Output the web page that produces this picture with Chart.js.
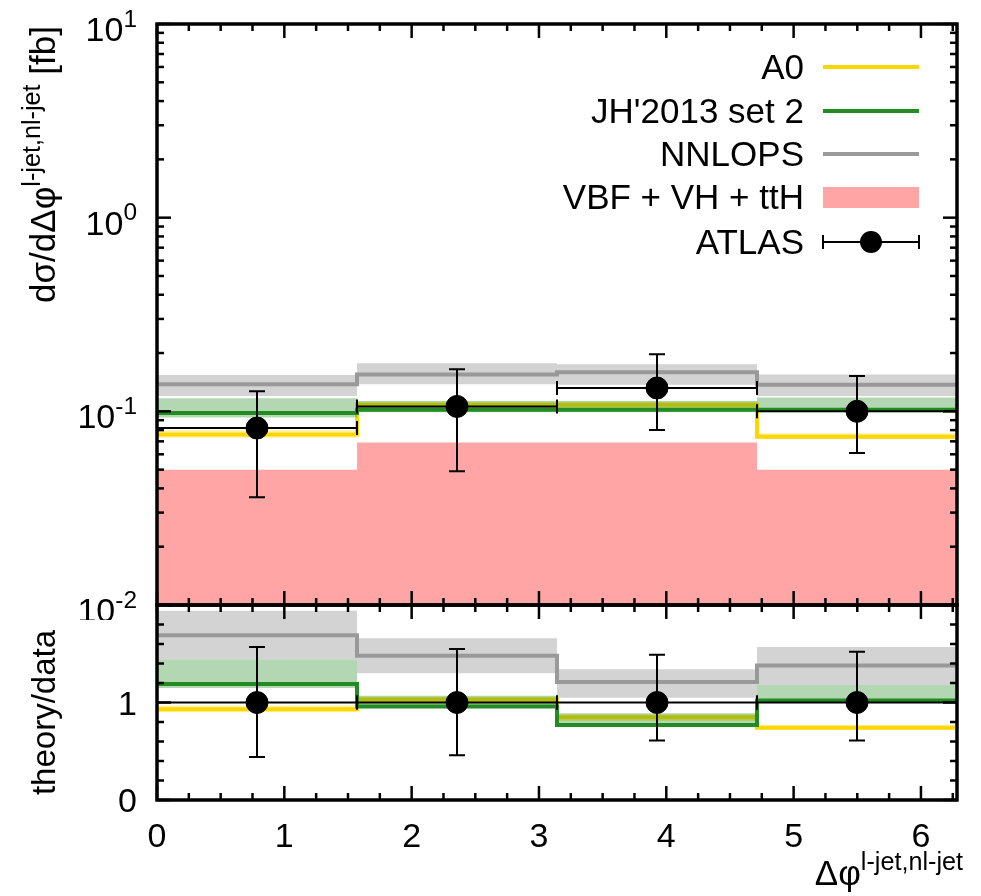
<!DOCTYPE html>
<html>
<head>
<meta charset="utf-8">
<script src="https://cdn.jsdelivr.net/npm/chart.js@4.4.1/dist/chart.umd.min.js"></script>
<style>
  body { margin: 0; background: #fff; }
  #wrap { position: relative; width: 981px; height: 896px; }
  canvas { position: absolute; left: 0; }
  #topChart { top: 0; }
  #ratioChart { top: 590px; }
</style>
</head>
<body>
<div id="wrap">
  <canvas id="topChart" width="981" height="620"></canvas>
  <canvas id="ratioChart" width="981" height="306"></canvas>
</div>
<script>
const FONT = '"Liberation Sans", Arial, sans-serif';

// bins in delta phi (0 .. 2pi, four bins)
const binEdges = [0, 1.5708, 3.1416, 4.7124, 6.2832];
const binCenters = [0.7854, 2.3562, 3.9270, 5.4978];

// top panel, dsigma/ddphi [fb]
const a0Top = [0.076, 0.108, 0.108, 0.074];
const a0TopLo = [0.073, 0.104, 0.104, 0.072];
const a0TopHi = [0.080, 0.112, 0.112, 0.077];
const jhTop = [0.098, 0.102, 0.102, 0.102];
const jhTopLo = [0.093, 0.099, 0.099, 0.099];
const jhTopHi = [0.117, 0.113, 0.113, 0.118];
const nnTop = [0.138, 0.155, 0.159, 0.137];
const nnTopLo = [0.120, 0.138, 0.137, 0.120];
const nnTopHi = [0.154, 0.177, 0.175, 0.155];
const vbfTop = [0.050, 0.069, 0.069, 0.050];
const atlasTop = [0.082, 0.106, 0.132, 0.100];
const atlasTopLo = [0.036, 0.049, 0.080, 0.061];
const atlasTopHi = [0.127, 0.165, 0.197, 0.152];

// bottom panel, theory/data
const a0Ratio = [0.93, 1.03, 0.85, 0.74];
const a0RatioLo = [0.90, 0.99, 0.81, 0.72];
const a0RatioHi = [0.97, 1.06, 0.88, 0.77];
const jhRatio = [1.19, 0.96, 0.77, 1.02];
const jhRatioLo = [1.15, 0.95, 0.76, 1.00];
const jhRatioHi = [1.44, 1.07, 0.89, 1.18];
const nnRatio = [1.69, 1.48, 1.21, 1.38];
const nnRatioLo = [1.44, 1.30, 1.05, 1.18];
const nnRatioHi = [1.94, 1.66, 1.34, 1.57];
const atlasRatio = [1, 1, 1, 1];
const atlasRatioLo = [0.44, 0.46, 0.61, 0.61];
const atlasRatioHi = [1.57, 1.55, 1.49, 1.52];

// tick labels
const xTicks = [0, 1, 2, 3, 4, 5, 6];
const topTicks = [0.01, 0.1, 1, 10];
const topTickExps = ['-2', '-1', '0', '1'];
const ratioTicks = [0, 1];
const ratioTickLabels = ['0', '1'];

const legendNames = ['A0', "JH'2013 set 2", 'NNLOPS', 'VBF + VH + ttH', 'ATLAS'];

const COL = {
  a0: '#ffd700', a0Band: 'rgba(255,215,0,0.35)',
  jh: '#228b22', jhBand: 'rgba(34,139,34,0.35)',
  nn: '#999999', nnBand: 'rgba(128,128,128,0.35)',
  vbf: '#ffa5a5'
};

function stepData(vals) {
  return binEdges.map((x, i) => ({ x, y: vals[Math.min(i, vals.length - 1)] }));
}

function buildDatasets(p) {
  const ds = [];
  const add = d => { ds.push(d); return ds.length - 1; };
  const hidden = { stepped: 'before', borderWidth: 1, borderColor: 'rgba(0,0,0,0)', pointRadius: 0 };
  if (p.vbf) {
    add({ ...hidden, data: stepData(p.vbf), fill: 'start', backgroundColor: COL.vbf, order: 30 });
  }
  const band = (lo, hi, color, order) => {
    const iLo = add({ ...hidden, data: stepData(lo), fill: false, order });
    add({ ...hidden, data: stepData(hi), fill: iLo, backgroundColor: color, order });
  };
  const line = (vals, color, order) => add({
    data: stepData(vals), stepped: 'before', borderWidth: 4, borderColor: color,
    pointRadius: 0, fill: false, order
  });
  band(p.nnLo, p.nnHi, COL.nnBand, 20);
  line(p.nn, COL.nn, 19);
  band(p.a0Lo, p.a0Hi, COL.a0Band, 18);
  line(p.a0, COL.a0, 17);
  band(p.jhLo, p.jhHi, COL.jhBand, 16);
  line(p.jh, COL.jh, 15);
  add({
    data: binCenters.map((x, i) => ({ x, y: p.atlas[i] })),
    showLine: false, pointRadius: 11, pointBackgroundColor: '#000',
    pointBorderColor: '#000', pointBorderWidth: 1,
    errLo: p.atlasLo, errHi: p.atlasHi, order: 0
  });
  return ds;
}

// text helpers
function txt(ctx, s, x, y, size, align) {
  ctx.font = size + 'px ' + FONT;
  const w = ctx.measureText(s).width;
  const left = align === 'right' ? x - w : align === 'center' ? x - w / 2 : x;
  ctx.fillText(s, left, y);
  return w;
}
// parts: [text, isSup]
function supWidth(ctx, parts, size) {
  let w = 0;
  parts.forEach(([s, sup]) => {
    ctx.font = (sup ? size * 0.72 : size) + 'px ' + FONT;
    w += ctx.measureText(s).width;
  });
  return w;
}
function supText(ctx, parts, x, y, size, align) {
  const w = supWidth(ctx, parts, size);
  let cx = align === 'right' ? x - w : align === 'center' ? x - w / 2 : x;
  parts.forEach(([s, sup]) => {
    cx += txt(ctx, s, cx, sup ? y - size * 0.42 : y, sup ? size * 0.72 : size, 'left');
  });
}

// error bars drawn just before the data points
const errorBars = {
  id: 'errorBars',
  beforeDatasetDraw(chart, args) {
    const d = chart.data.datasets[args.index];
    if (!d.errLo) return;
    const { ctx, scales: { x, y } } = chart;
    ctx.save();
    ctx.strokeStyle = '#000';
    ctx.lineWidth = 2;
    d.data.forEach((pt, i) => {
      const px = x.getPixelForValue(pt.x);
      const py = y.getPixelForValue(pt.y);
      const lo = y.getPixelForValue(d.errLo[i]);
      const hi = y.getPixelForValue(d.errHi[i]);
      const xl = x.getPixelForValue(binEdges[i]);
      const xr = x.getPixelForValue(binEdges[i + 1]);
      ctx.beginPath();
      ctx.moveTo(px, lo); ctx.lineTo(px, hi);
      ctx.moveTo(px - 8, lo); ctx.lineTo(px + 8, lo);
      ctx.moveTo(px - 8, hi); ctx.lineTo(px + 8, hi);
      ctx.moveTo(xl, py); ctx.lineTo(xr, py);
      ctx.moveTo(xl, py - 7); ctx.lineTo(xl, py + 7);
      ctx.moveTo(xr, py - 7); ctx.lineTo(xr, py + 7);
      ctx.stroke();
    });
    ctx.restore();
  }
};

function framePlugin(cfg) {
  return {
    id: 'frame',
    afterDatasetsDraw(chart) {
      const { ctx, chartArea: a, scales: { x, y } } = chart;
      ctx.save();
      ctx.strokeStyle = '#000';
      ctx.lineWidth = 2.5;
      const seg = (x1, y1, x2, y2) => { ctx.beginPath(); ctx.moveTo(x1, y1); ctx.lineTo(x2, y2); ctx.stroke(); };
      const xt = (v, len) => {
        const px = x.getPixelForValue(v);
        seg(px, a.bottom, px, a.bottom - len);
        seg(px, a.top, px, a.top + len);
      };
      const yt = (v, len) => {
        const py = y.getPixelForValue(v);
        seg(a.left, py, a.left + len, py);
        seg(a.right, py, a.right - len, py);
      };
      for (let v = 0; v <= 6.28; v += 0.25) xt(v, Number.isInteger(v) ? 14 : 7);
      cfg.yMajor.forEach(v => yt(v, 14));
      cfg.yMinor.forEach(v => yt(v, 7));
      ctx.lineWidth = 3.5;
      ctx.strokeRect(a.left, a.top, a.right - a.left, a.bottom - a.top);
      ctx.restore();
    },
    afterDraw(chart) {
      const { ctx, chartArea: a, scales: { x, y } } = chart;
      ctx.save();
      ctx.fillStyle = '#000';
      ctx.textBaseline = 'alphabetic';
      cfg.labels(ctx, a, x, y);
      ctx.restore();
    }
  };
}

function makeChart(id, datasets, yScale, padding, cfg) {
  return new Chart(document.getElementById(id), {
    type: 'line',
    data: { datasets },
    options: {
      responsive: false,
      animation: false,
      events: [],
      layout: { padding },
      plugins: { legend: { display: false }, tooltip: { enabled: false } },
      scales: {
        x: { type: 'linear', min: 0, max: binEdges[binEdges.length - 1], display: false },
        y: { ...yScale, display: false }
      }
    },
    plugins: [errorBars, framePlugin(cfg)]
  });
}

// minor ticks
const logMinor = [];
[0.01, 0.1, 1].forEach(d => { for (let k = 2; k <= 9; k++) logMinor.push(d * k); });
const ratioMinor = [];
for (let k = 1; k <= 9; k++) if (k !== 5) ratioMinor.push(k * 0.2);

makeChart('topChart',
  buildDatasets({
    vbf: vbfTop,
    nn: nnTop, nnLo: nnTopLo, nnHi: nnTopHi,
    a0: a0Top, a0Lo: a0TopLo, a0Hi: a0TopHi,
    jh: jhTop, jhLo: jhTopLo, jhHi: jhTopHi,
    atlas: atlasTop, atlasLo: atlasTopLo, atlasHi: atlasTopHi
  }),
  { type: 'logarithmic', min: 0.01, max: 10 },
  { left: 157, right: 24, top: 24, bottom: 15 },
  {
    yMajor: topTicks, yMinor: logMinor,
    labels(ctx, a, x, y) {
      topTicks.forEach((v, i) => {
        supText(ctx, [['10', false], [topTickExps[i], true]], 137, y.getPixelForValue(v) + 17, 34, 'right');
      });
      // y title
      ctx.save();
      ctx.translate(55, 303);
      ctx.rotate(-Math.PI / 2);
      supText(ctx, [['dσ/dΔφ', false], ['l-jet,nl-jet', true], [' [fb]', false]], 0, 0, 35, 'left');
      ctx.restore();
      // legend
      const tx = 804, l0 = 823, l1 = 919, rows = [67, 111, 154, 197, 242];
      const lineCols = [COL.a0, COL.jh, COL.nn];
      legendNames.forEach((name, i) => {
        txt(ctx, name, tx, rows[i] + 12, 35, 'right');
      });
      ctx.lineWidth = 4;
      lineCols.forEach((c, i) => {
        ctx.strokeStyle = c;
        ctx.beginPath(); ctx.moveTo(l0, rows[i]); ctx.lineTo(l1, rows[i]); ctx.stroke();
      });
      ctx.fillStyle = COL.vbf;
      ctx.fillRect(l0, rows[3] - 10, l1 - l0, 21);
      ctx.fillStyle = '#000';
      ctx.strokeStyle = '#000';
      ctx.lineWidth = 2;
      const r = rows[4], m = (l0 + l1) / 2;
      ctx.beginPath();
      ctx.moveTo(l0, r); ctx.lineTo(l1, r);
      ctx.moveTo(l0, r - 7); ctx.lineTo(l0, r + 7);
      ctx.moveTo(l1, r - 7); ctx.lineTo(l1, r + 7);
      ctx.stroke();
      ctx.beginPath(); ctx.arc(m, r, 11, 0, Math.PI * 2); ctx.fill();
    }
  });

makeChart('ratioChart',
  buildDatasets({
    nn: nnRatio, nnLo: nnRatioLo, nnHi: nnRatioHi,
    a0: a0Ratio, a0Lo: a0RatioLo, a0Hi: a0RatioHi,
    jh: jhRatio, jhLo: jhRatioLo, jhHi: jhRatioHi,
    atlas: atlasRatio, atlasLo: atlasRatioLo, atlasHi: atlasRatioHi
  }),
  { type: 'linear', min: 0, max: 2 },
  { left: 157, right: 24, top: 15, bottom: 96 },
  {
    yMajor: [0, 1, 2], yMinor: ratioMinor,
    labels(ctx, a, x, y) {
      ratioTicks.forEach((v, i) => {
        txt(ctx, ratioTickLabels[i], 137, y.getPixelForValue(v) + 12, 34, 'right');
      });
      xTicks.forEach(v => {
        txt(ctx, String(v), x.getPixelForValue(v), a.bottom + 47, 34, 'center');
      });
      supText(ctx, [['Δφ', false], ['l-jet,nl-jet', true]], 963, a.bottom + 85, 35, 'right');
      ctx.save();
      ctx.translate(55, y.getPixelForValue(1) + 10);
      ctx.rotate(-Math.PI / 2);
      txt(ctx, 'theory/data', 0, 0, 33, 'center');
      ctx.restore();
    }
  });
</script>
</body>
</html>
